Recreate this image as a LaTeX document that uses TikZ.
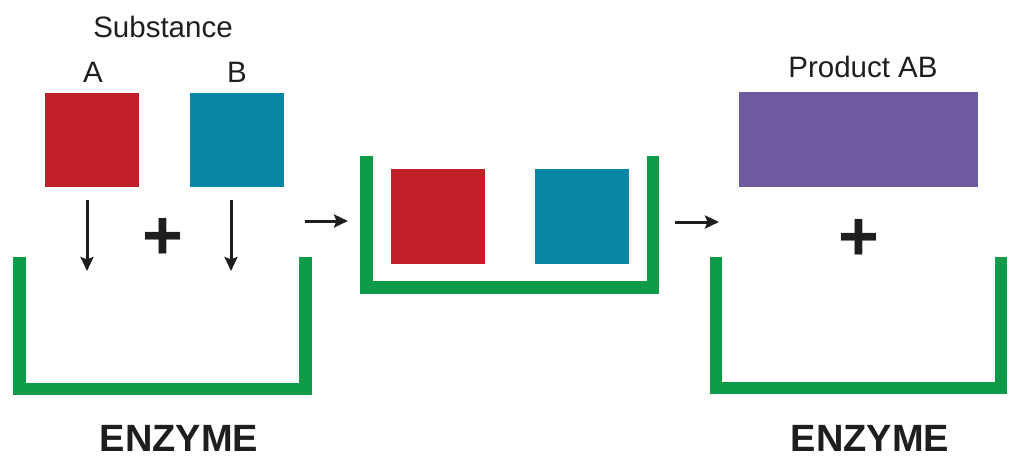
\documentclass[tikz,border=0pt]{standalone}
\usepackage{fontspec}
\setmainfont{Liberation Sans}
\usetikzlibrary{arrows.meta}
\definecolor{cred}{RGB}{193,32,40}
\definecolor{cblue}{RGB}{8,134,166}
\definecolor{cpurple}{RGB}{110,90,158}
\definecolor{cgreen}{RGB}{14,155,72}
\definecolor{ctext}{RGB}{30,30,30}
\begin{document}
\begin{tikzpicture}[x=1pt,y=-1pt,
  sq/.style={inner sep=0pt,outer sep=0pt,minimum width=94pt,minimum height=94pt},
  cup/.style={draw=cgreen,line width=12.5pt,line cap=butt,line join=miter},
  arr/.style={draw=ctext,line width=3pt,-{Stealth[length=14pt,width=13pt,inset=2.5pt]}},
  lbl/.style={text=ctext,font=\fontsize{29.5}{32}\selectfont,inner sep=0pt},
  big/.style={text=ctext,font=\bfseries\fontsize{38}{40}\selectfont,inner sep=0pt,anchor=base},
  plus/.style={text=ctext,font=\bfseries\fontsize{70}{70}\selectfont,inner sep=0pt}]
\useasboundingbox (0,0) rectangle (1014,457);
% left stage
\node[lbl] (subst) at (163,27) {Substance};
\node[lbl] (la) at (93,72) {A};
\node[lbl] (lb) at (237,72) {B};
\node[sq,fill=cred] (sqa) at (92,140) {};
\node[sq,fill=cblue] (sqb) at (236.5,140) {};
\coordinate (enda) at (87,271);
\coordinate (endb) at (231,271);
\draw[arr] ([yshift=-13pt]sqa.south -| enda) -- (enda);
\draw[arr] ([yshift=-13pt]sqb.south -| endb) -- (endb);
\node[plus] (plusl) at (163,239) {+};
\draw[cup] (19.5,257) -- (19.5,389) -- (305.5,389) -- (305.5,257);
\node[big] (enzl) at (179,451) {ENZYME};
% arrow 1
\coordinate (a1s) at (305,221);
\coordinate (a1e) at (348,221);
\draw[arr] (a1s) -- (a1e);
% middle stage
\draw[cup] (366.5,156) -- (366.5,287.5) -- (653,287.5) -- (653,156);
\node[sq,fill=cred] (msqa) at (437.5,216.5) {};
\node[sq,fill=cblue] (msqb) at (582,216.5) {};
% arrow 2
\coordinate (a2s) at (675,222);
\coordinate (a2e) at (719,222);
\draw[arr] (a2s) -- (a2e);
% right stage
\node[lbl] (prod) at (863,67) {Product AB};
\node[inner sep=0pt,outer sep=0pt,minimum width=239pt,minimum height=95pt,fill=cpurple] (ab) at (858.5,139.5) {};
\node[plus] (plusr) at (859,240) {+};
\draw[cup] (716,257) -- (716,388) -- (1001,388) -- (1001,257);
\node[big] (enzr) at (870,451) {ENZYME};
\end{tikzpicture}
\end{document}
